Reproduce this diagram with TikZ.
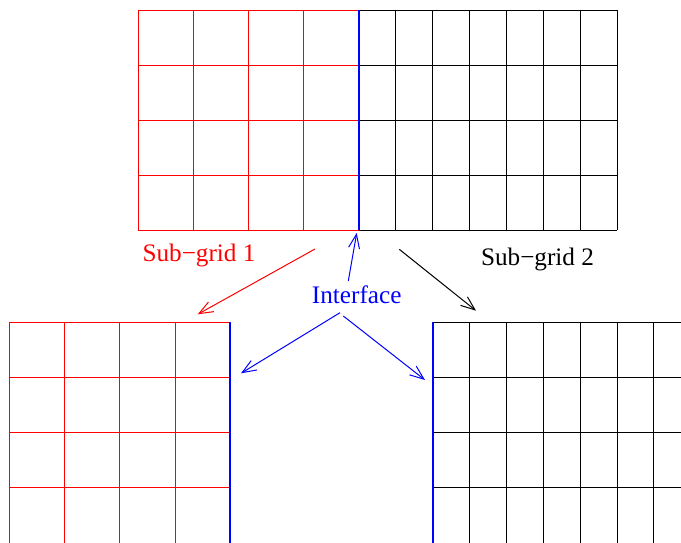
\documentclass[tikz,border=0pt]{standalone}
\usepackage{fontspec}
\setmainfont{Liberation Serif}
\usetikzlibrary{arrows.meta}
\begin{document}
\begin{tikzpicture}[x=0.5pt, y=-0.5pt,
  subgrid1/.style = {draw=red, line width=0.5pt},
  subgrid2/.style = {draw=black, line width=0.5pt},
  iface/.style = {draw=blue, line width=1.1pt},
  lbl/.style = {font=\fontsize{12.6}{15}\selectfont, inner sep=0pt},
  pointer/.style = {-{Straight Barb[length=7pt,width=5.5pt]}, line width=0.5pt}
]
  \useasboundingbox (0,0) rectangle (681,542);
  \clip (0,0) rectangle (681,542);
  % global grid: sub-grid 1 part
  \foreach \x in {138,193.25,248.5,303.75}
    \draw[subgrid1] (\x,10) -- (\x,230);
  \foreach \y in {10,65,120,175,230}
    \draw[subgrid1] (138,\y) -- (359,\y);
  % global grid: sub-grid 2 part
  \foreach \i in {1,...,7}
    \draw[subgrid2] ({359+\i*36.86},10) -- ({359+\i*36.86},230);
  \foreach \y in {10,65,120,175,230}
    \draw[subgrid2] (359,\y) -- (617,\y);
  \draw[iface] (359,10) -- (359,230);
  % sub-grid 1 alone
  \foreach \x in {9.3,64.55,119.8,175.05}
    \draw[subgrid1] (\x,322.3) -- (\x,548);
  \foreach \y in {322.3,377.3,432.3,487.3}
    \draw[subgrid1] (9.3,\y) -- (230.3,\y);
  \draw[iface] (230.3,322.3) -- (230.3,548);
  % sub-grid 2 alone
  \foreach \i in {1,...,7}
    \draw[subgrid2] ({432.7+\i*36.86},322.3) -- ({432.7+\i*36.86},548);
  \foreach \y in {322.3,377.3,432.3,487.3}
    \draw[subgrid2] (432.7,\y) -- (700,\y);
  \draw[iface] (432.7,322.3) -- (432.7,548);
  % labels
  \node[lbl, text=red] (sg1) at (199,255) {Sub−grid 1};
  \node[lbl] (sg2) at (537.5,259) {Sub−grid 2};
  \node[lbl, text=blue] (itf) at (356.7,295) {Interface};
  % arrow ends
  \coordinate (sg1from) at (315,249);
  \coordinate (sg1to) at (197.7,314.3);
  \coordinate (sg2from) at (399.3,249.3);
  \coordinate (sg2to) at (476,310.7);
  \coordinate (itfup) at (348.3,281);
  \coordinate (itftop) at (356.7,233);
  \coordinate (itfl) at (340,312.7);
  \coordinate (itfleft) at (241,373.3);
  \coordinate (itfr) at (343.3,316);
  \coordinate (itfright) at (425,380);
  % arrows
  \draw[pointer, red] (sg1from) -- (sg1to);
  \draw[pointer] (sg2from) -- (sg2to);
  \draw[pointer, blue] (itfup) -- (itftop);
  \draw[pointer, blue] (itfl) -- (itfleft);
  \draw[pointer, blue] (itfr) -- (itfright);
\end{tikzpicture}
\end{document}
